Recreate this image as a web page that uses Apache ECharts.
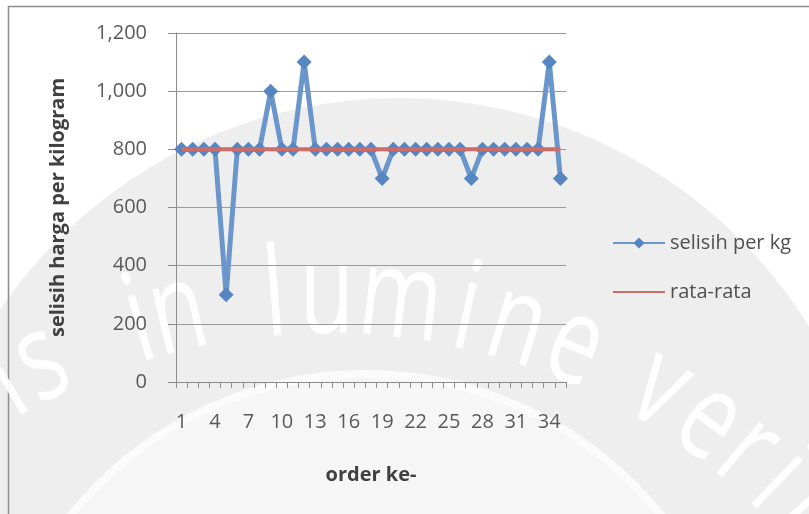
<!DOCTYPE html>
<html>
<head>
<meta charset="utf-8">
<script src="https://cdn.jsdelivr.net/npm/echarts@6/dist/echarts.min.js"></script>
<style>
  html, body { margin: 0; padding: 0; background: #fff; }
  #chart { width: 809px; height: 514px; }
</style>
</head>
<body>
<div id="chart"></div>
<script>
  // order numbers 1..35
  var orders = ["1","2","3","4","5","6","7","8","9","10","11","12","13","14","15","16","17","18",
    "19","20","21","22","23","24","25","26","27","28","29","30","31","32","33","34","35"];
  var selisih = [800, 800, 800, 800, 300, 800, 800, 800, 1000, 800, 800, 1100, 800, 800, 800, 800, 800, 800,
    700, 800, 800, 800, 800, 800, 800, 800, 700, 800, 800, 800, 800, 800, 800, 1100, 700];
  var rataRata = [800, 800, 800, 800, 800, 800, 800, 800, 800, 800, 800, 800, 800, 800, 800, 800, 800, 800,
    800, 800, 800, 800, 800, 800, 800, 800, 800, 800, 800, 800, 800, 800, 800, 800, 800];
  var yTicks = [0, 200, 400, 600, 800, 1000, 1200];

  // watermark letters and their angle on the arc (degrees)
  var wmLetters = ["e", "n", "s", "i", "n", "l", "u", "m", "i", "n", "e", "v", "e", "r", "i", "t"];
  var wmAngles = [-36, -31, -26, -16.7, -13.2, -4.6, 0, 6.5, 12.4, 17, 22.4, 30.8, 36, 40.3, 44, 47.5];

  var font = "'Open Sans', sans-serif";
  var blue = "#6a96cb";
  var blueMark = "#5686c1";
  var red = "#cd6b69";

  var graphics = [
    // watermark circle behind the chart
    {
      type: "circle", z: -10, silent: true,
      shape: { cx: 399, cy: 580, r: 482 },
      style: { fill: "#eeeeee" }
    },
    {
      type: "circle", z: -9, silent: true,
      shape: { cx: 366, cy: 753, r: 379 },
      style: { fill: "#f6f6f6", stroke: "#fbfbfb", lineWidth: 8 }
    },
    // frame
    {
      type: "rect", z: -8, silent: true,
      shape: { x: 8.5, y: 6.5, width: 820, height: 540 },
      style: { fill: "none", stroke: "#8c8c8c", lineWidth: 1.5 }
    }
  ];
  var cx = 327, cy = 948, r = 588;
  wmLetters.forEach(function (ch, i) {
    var a = wmAngles[i] * Math.PI / 180;
    graphics.push({
      type: "text", z: -7, silent: true,
      x: cx + r * Math.sin(a),
      y: cy - r * Math.cos(a),
      rotation: -a,
      scaleX: 0.72,
      style: {
        text: ch,
        fill: "#ffffff",
        font: "124px " + font,
        align: "center",
        verticalAlign: "bottom",
        opacity: 0.9
      }
    });
  });

  var myChart = echarts.init(document.getElementById("chart"));
  var option = {
    backgroundColor: "#fff",
    animation: false,
    graphic: graphics,
    grid: {
      left: 176,
      right: 243,
      top: 33,
      bottom: 132
    },
    legend: {
      orient: "vertical",
      left: 607,
      top: 228,
      itemWidth: 52,
      itemHeight: 14,
      itemGap: 29,
      textStyle: { fontFamily: font, fontSize: 20, color: "#505050", lineHeight: 16 },
      data: ["selisih per kg", { name: "rata-rata", itemStyle: { opacity: 0 } }]
    },
    xAxis: {
      type: "category",
      data: orders,
      boundaryGap: true,
      name: "order ke-",
      nameLocation: "middle",
      nameGap: 83,
      nameTextStyle: { fontFamily: font, fontSize: 20, fontWeight: "bold", color: "#404040" },
      axisLine: { lineStyle: { color: "#8c8c8c", width: 1 } },
      axisTick: { show: true, interval: 0, length: 6, lineStyle: { color: "#8c8c8c" } },
      axisLabel: {
        interval: 2,
        margin: 30,
        fontFamily: font,
        fontSize: 20,
        color: "#595959"
      },
      splitLine: { show: false }
    },
    yAxis: {
      type: "value",
      min: 0,
      max: 1200,
      interval: 200,
      name: "selisih harga per kilogram",
      nameLocation: "middle",
      nameGap: 108,
      nameTextStyle: { fontFamily: font, fontSize: 20, fontWeight: "bold", color: "#404040" },
      axisLine: { show: true, lineStyle: { color: "#8c8c8c", width: 1 } },
      axisTick: { show: true, length: 8, lineStyle: { color: "#8c8c8c" } },
      axisLabel: {
        margin: 29,
        fontFamily: font,
        fontSize: 20,
        color: "#595959",
        formatter: function (v) {
          return yTicks.indexOf(v) >= 0 ? v.toLocaleString("en-US") : "";
        }
      },
      splitLine: { show: true, lineStyle: { color: "#9a9a9a", width: 1 } }
    },
    series: [
      {
        name: "selisih per kg",
        type: "line",
        data: selisih,
        symbol: "diamond",
        symbolSize: 15,
        showAllSymbol: true,
        lineStyle: { color: blue, width: 5 },
        itemStyle: { color: blueMark },
        z: 3
      },
      {
        name: "rata-rata",
        type: "line",
        data: rataRata,
        symbol: "none",
        lineStyle: { color: red, width: 4 },
        itemStyle: { color: red },
        z: 4
      }
    ]
  };
  myChart.setOption(option);
</script>
</body>
</html>
